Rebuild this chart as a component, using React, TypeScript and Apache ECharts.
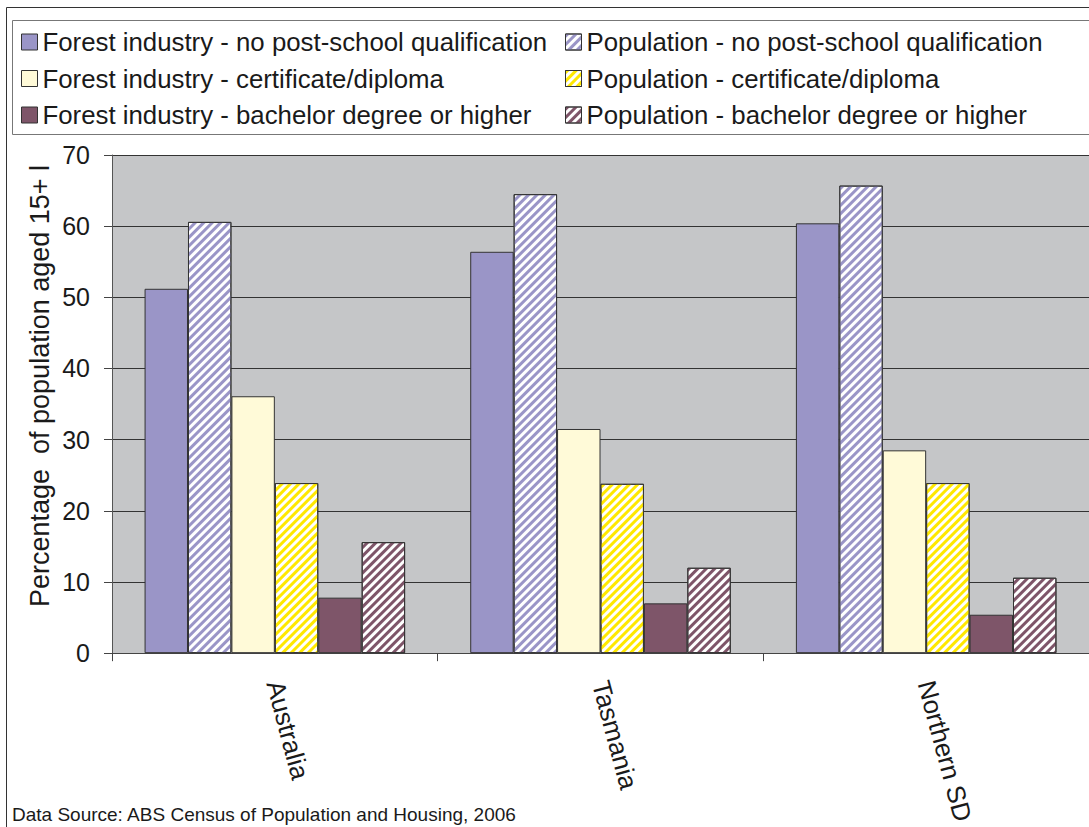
import React, { useEffect, useRef } from "react";
import * as echarts from "echarts";

const categories = ["Australia", "Tasmania", "Northern SD"];
const fiNoPost = [51.2, 56.4, 60.4];
const popNoPost = [60.6, 64.5, 65.7];
const fiCert = [36.1, 31.5, 28.5];
const popCert = [23.9, 23.8, 23.9];
const fiBach = [7.8, 7.0, 5.4];
const popBach = [15.6, 12.0, 10.6];
const yTicks = { min: 0, max: 70, interval: 10 };

const FONT = "'Liberation Sans', Arial, sans-serif";

export default function App() {
  const ref = useRef<HTMLDivElement>(null);
  useEffect(() => {
    document.body.style.margin = "0";
    const chart = echarts.init(ref.current!, null, { renderer: "svg" });
    const border = { borderColor: "#333", borderWidth: 1 };
    const stripe = (color: string) => ({
      symbol: "rect",
      symbolSize: 1,
      color,
      dashArrayX: [1, 0],
      dashArrayY: [2.2, 2.6],
      rotation: -Math.PI / 4,
    });
    const series = [
      { name: "Forest industry - no post-school qualification", data: fiNoPost, itemStyle: { color: "#9a95c7", ...border } },
      { name: "Population - no post-school qualification", data: popNoPost, itemStyle: { color: "#ffffff", ...border, decal: stripe("#9a95c7") } },
      { name: "Forest industry - certificate/diploma", data: fiCert, itemStyle: { color: "#fffad8", ...border } },
      { name: "Population - certificate/diploma", data: popCert, itemStyle: { color: "#ffffff", ...border, decal: stripe("#ffe800") } },
      { name: "Forest industry - bachelor degree or higher", data: fiBach, itemStyle: { color: "#7e5569", ...border } },
      { name: "Population - bachelor degree or higher", data: popBach, itemStyle: { color: "#ffffff", ...border, decal: stripe("#7e5569") } },
    ].map((s) => ({ ...s, type: "bar", barGap: "0%", barCategoryGap: "20%" }));

    const legendCommon = {
      orient: "vertical",
      top: 24,
      itemWidth: 16,
      itemHeight: 16,
      itemGap: 10.5,
      icon: "rect",
      itemStyle: { borderColor: "#333", borderWidth: 1 },
      textStyle: { fontFamily: FONT, fontSize: 25.8, lineHeight: 26, color: "#1a1a1a" },
      selectedMode: false,
    };

    chart.setOption({
      animation: false,
      backgroundColor: "#ffffff",
      textStyle: { fontFamily: FONT },
      legend: [
        { ...legendCommon, left: 16, data: [series[0].name, series[2].name, series[4].name] },
        { ...legendCommon, left: 560, data: [series[1].name, series[3].name, series[5].name] },
      ],
      grid: {
        left: 112,
        top: 155,
        width: 981,
        height: 500,
        show: true,
        backgroundColor: "#c5c6c8",
        borderWidth: 0,
        containLabel: false,
      },
      xAxis: {
        type: "category",
        data: categories,
        axisLine: { lineStyle: { color: "#444", width: 1 } },
        axisTick: { show: true, length: 8, lineStyle: { color: "#444" } },
        axisLabel: {
          rotate: -75,
          margin: 28,
          fontSize: 26,
          fontFamily: FONT,
          color: "#1a1a1a",
          interval: 0,
        },
      },
      yAxis: {
        type: "value",
        min: yTicks.min,
        max: yTicks.max,
        interval: yTicks.interval,
        axisLine: { show: true, lineStyle: { color: "#555", width: 1 } },
        axisTick: { show: true, length: 8, lineStyle: { color: "#444" } },
        axisLabel: { fontSize: 25, fontFamily: FONT, color: "#1a1a1a", margin: 22 },
        splitLine: { show: true, lineStyle: { color: "#333", width: 1 } },
      },
      graphic: [
        {
          type: "rect",
          z: -1,
          shape: { x: 6.5, y: 7.5, width: 1200, height: 900 },
          style: { fill: "none", stroke: "#333", lineWidth: 1 },
        },
        {
          type: "rect",
          z: -1,
          shape: { x: 12.5, y: 20.5, width: 1200, height: 114 },
          style: { fill: "none", stroke: "#777", lineWidth: 1 },
        },
        {
          type: "text",
          x: 40,
          y: 386,
          rotation: Math.PI / 2,
          style: {
            text: "Percentage  of population aged 15+ l",
            font: `27px ${FONT}`,
            fill: "#1a1a1a",
            textAlign: "center",
            textVerticalAlign: "middle",
          },
        },
        {
          type: "text",
          x: 12,
          y: 814,
          style: {
            text: "Data Source: ABS Census of Population and Housing, 2006",
            font: `19px ${FONT}`,
            fill: "#1a1a1a",
            textAlign: "left",
            textVerticalAlign: "middle",
          },
        },
      ],
      series,
    });
    return () => chart.dispose();
  }, []);
  return <div ref={ref} style={{ width: 1089, height: 827 }} />;
}
